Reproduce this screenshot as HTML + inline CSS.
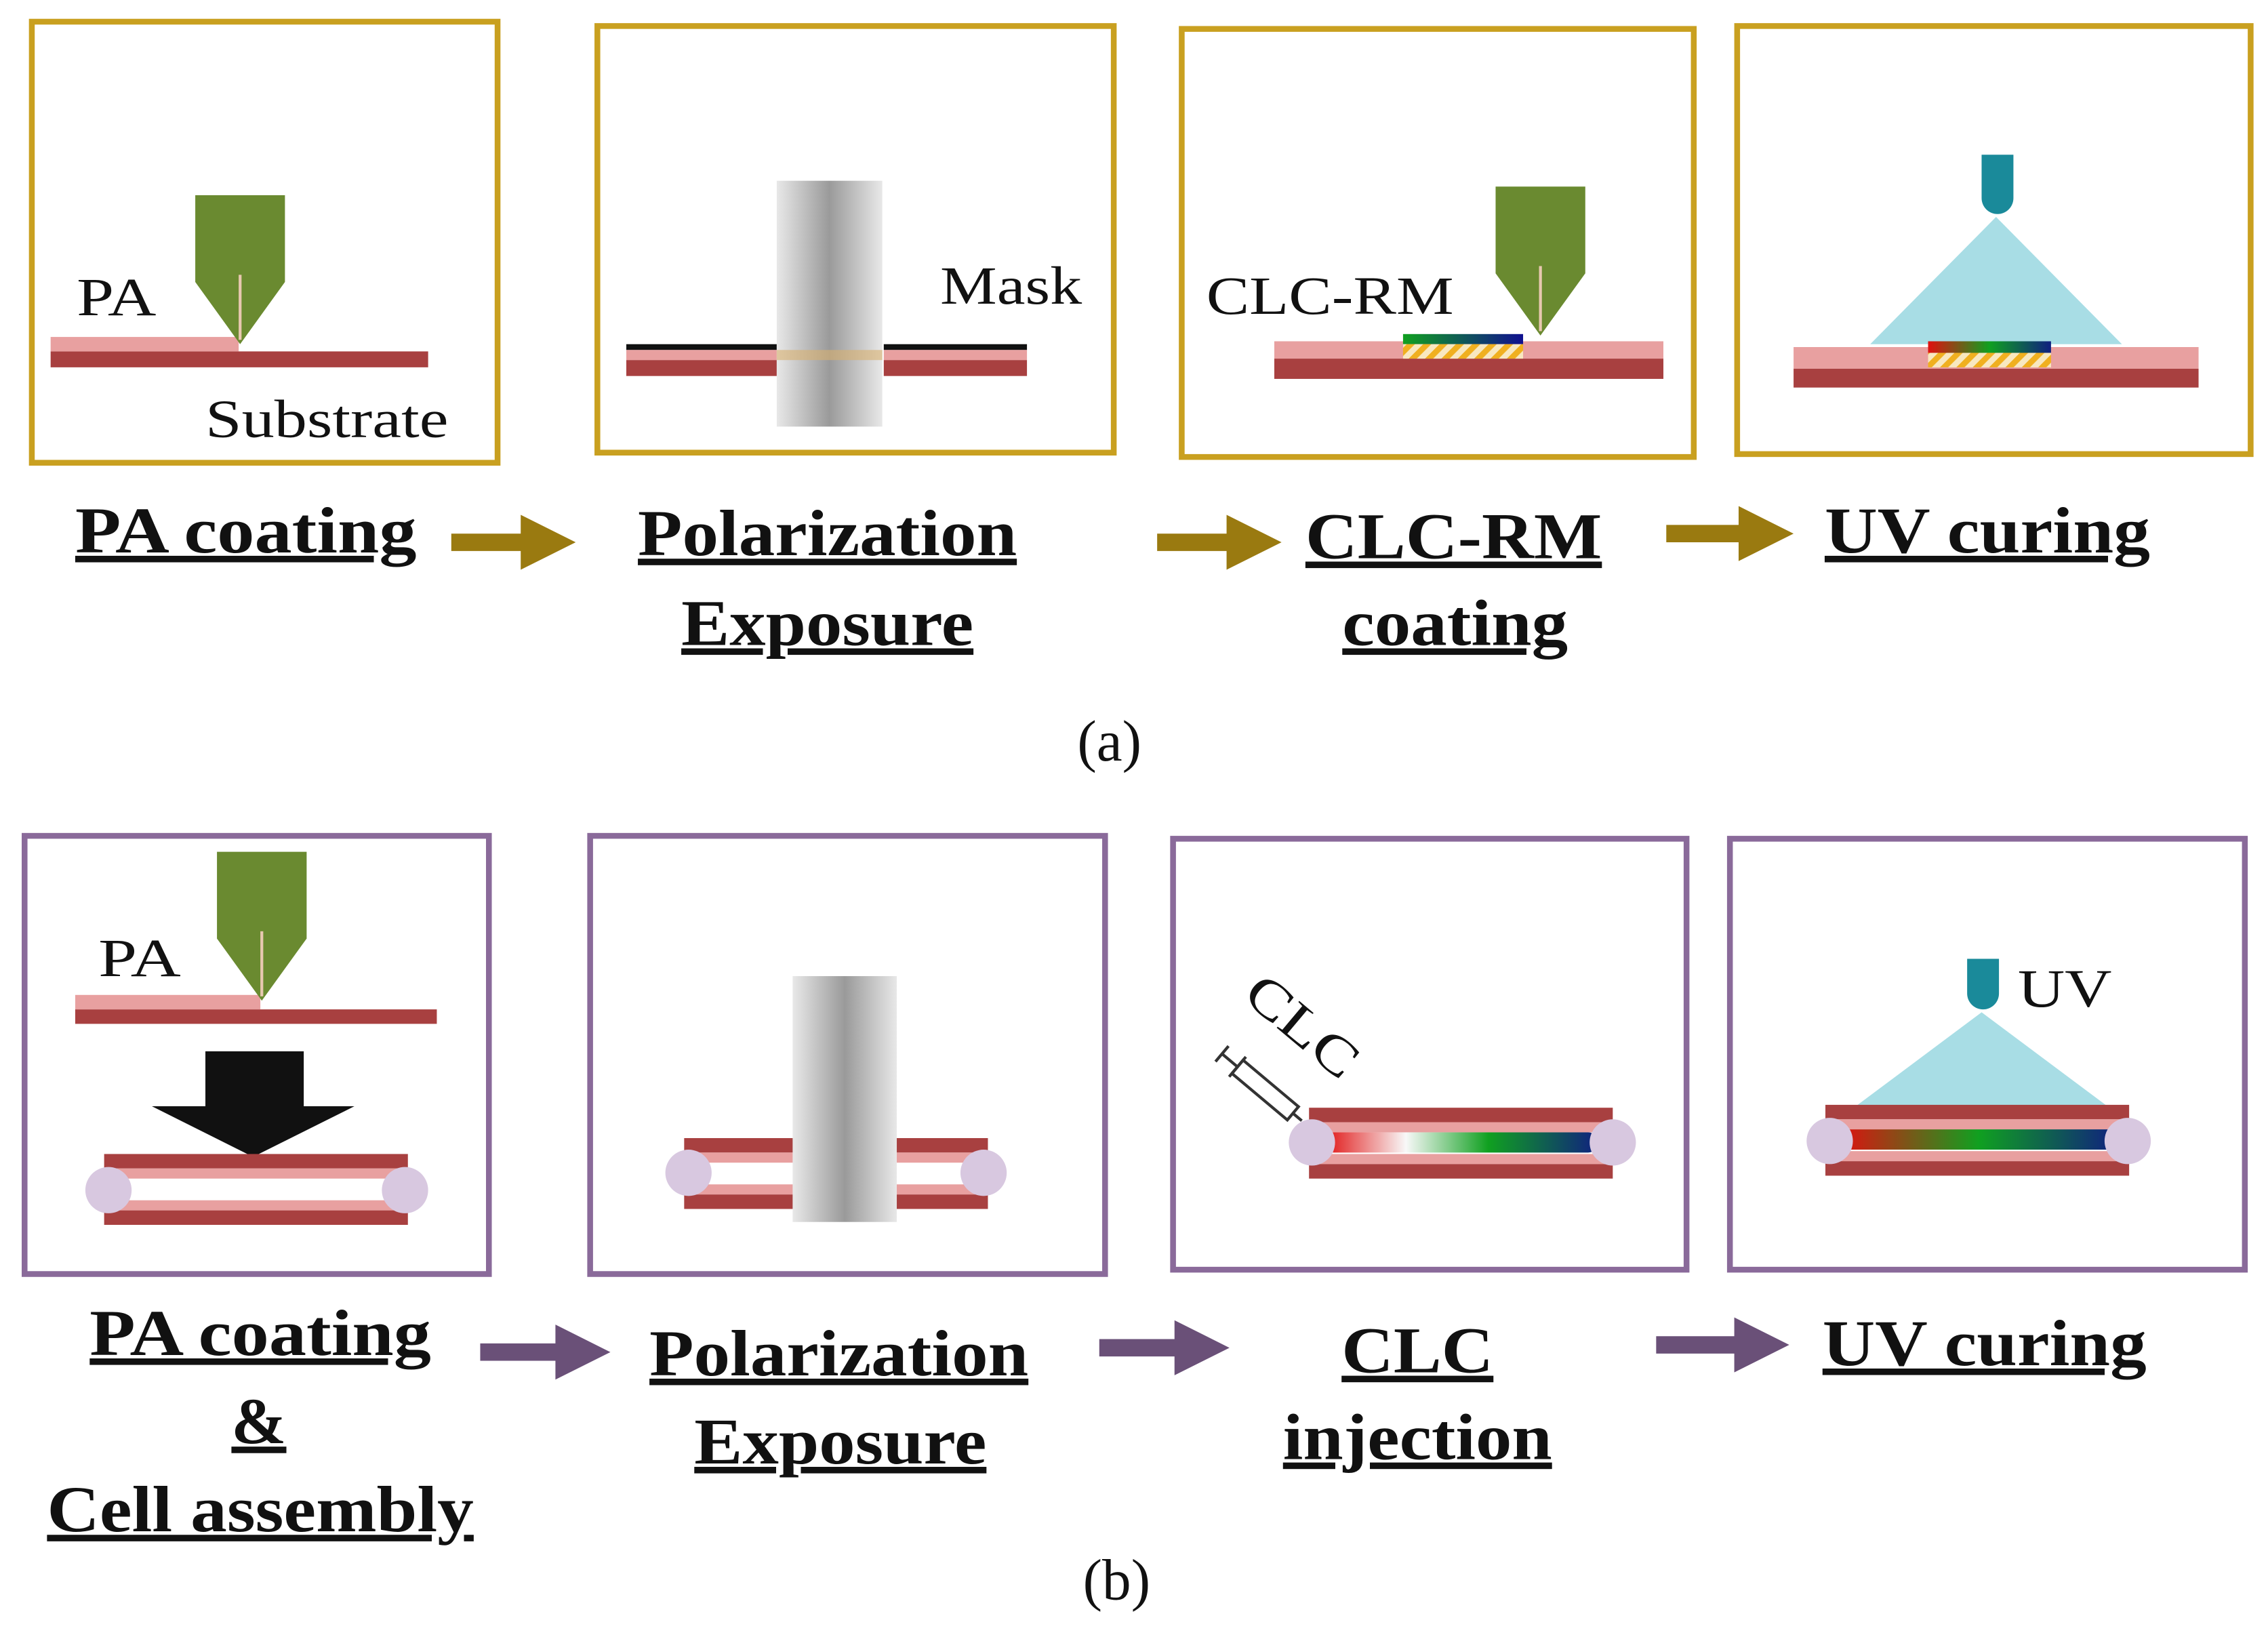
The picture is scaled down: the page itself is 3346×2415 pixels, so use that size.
<!DOCTYPE html>
<html><head><meta charset="utf-8"><style>
html,body{margin:0;padding:0;background:#fff;}
svg{display:block;}
.l{font-family:"Liberation Serif",serif;font-weight:bold;font-size:45px;text-anchor:middle;text-decoration:underline;fill:#111;}
.t{font-family:"Liberation Serif",serif;font-size:37px;fill:#111;}
.c{font-family:"Liberation Serif",serif;font-size:40px;text-anchor:middle;fill:#111;}
</style></head><body>
<svg width="3346" height="2415" viewBox="0 0 1568 1132" preserveAspectRatio="none" xmlns="http://www.w3.org/2000/svg">
<defs>
<linearGradient id="cyl" x1="0" x2="1"><stop offset="0" stop-color="#e8e8e8"/><stop offset=".5" stop-color="#9a9a9a"/><stop offset="1" stop-color="#e8e8e8"/></linearGradient>
<linearGradient id="rgb" x1="0" x2="1"><stop offset="0" stop-color="#e01010"/><stop offset=".5" stop-color="#10a020"/><stop offset="1" stop-color="#102080"/></linearGradient>
<linearGradient id="gb" x1="0" x2="1"><stop offset="0" stop-color="#10a020"/><stop offset="1" stop-color="#101090"/></linearGradient>
<linearGradient id="rwgb" x1="0" x2="1"><stop offset="0" stop-color="#e01010"/><stop offset=".3" stop-color="#f8f8f8"/><stop offset=".6" stop-color="#10a020"/><stop offset="1" stop-color="#102080"/></linearGradient>
<pattern id="hat" width="8" height="8" patternUnits="userSpaceOnUse" patternTransform="rotate(45)"><rect width="8" height="8" fill="#f8e8c0"/><rect width="4" height="8" fill="#f0b020"/></pattern>
<g id="noz"><polygon points="0,0 62,0 62,60 31,103 0,60" fill="#6a8a30"/><line x1="31" y1="55" x2="31" y2="100" stroke="#e8c8b0" stroke-width="2"/></g>
<g id="cell"><rect x="0" y="0" width="210" height="10" fill="#a84040"/><rect x="6" y="10" width="198" height="7" fill="#e8a0a0"/><rect x="6" y="32" width="198" height="7" fill="#e8a0a0"/><rect x="0" y="39" width="210" height="10" fill="#a84040"/></g>
</defs>
<g fill="none" stroke="#c9a020" stroke-width="4">
<rect x="22" y="15" width="322" height="305"/><rect x="413" y="18" width="357" height="295"/><rect x="817" y="20" width="354" height="296"/><rect x="1201" y="18" width="355" height="296"/></g>
<g fill="none" stroke="#8a6a9a" stroke-width="4">
<rect x="17" y="578" width="321" height="303"/><rect x="408" y="578" width="356" height="303"/><rect x="811" y="580" width="355" height="298"/><rect x="1196" y="580" width="356" height="298"/></g>
<!-- a1 -->
<rect x="35" y="243" width="261" height="11" fill="#a84040"/><rect x="35" y="233" width="130" height="10" fill="#e8a0a0"/>
<use href="#noz" x="135" y="135"/>
<text class="t" x="53" y="218" textLength="55" lengthAdjust="spacingAndGlyphs">PA</text><text class="t" x="142" y="302" textLength="168" lengthAdjust="spacingAndGlyphs">Substrate</text>
<!-- a2 -->
<rect x="433" y="238" width="104" height="4" fill="#111"/><rect x="433" y="242" width="104" height="7" fill="#e8a0a0"/><rect x="433" y="249" width="104" height="11" fill="#a84040"/>
<rect x="611" y="238" width="99" height="4" fill="#111"/><rect x="611" y="242" width="99" height="7" fill="#e8a0a0"/><rect x="611" y="249" width="99" height="11" fill="#a84040"/>
<rect x="537" y="125" width="73" height="170" fill="url(#cyl)"/>
<rect x="537" y="242" width="73" height="7" fill="#d8b070" opacity=".6"/>
<text class="t" x="650" y="210" textLength="98" lengthAdjust="spacingAndGlyphs">Mask</text>
<!-- a3 -->
<rect x="881" y="236" width="269" height="12" fill="#e8a0a0"/><rect x="881" y="248" width="269" height="14" fill="#a84040"/>
<rect x="970" y="231" width="83" height="7" fill="url(#gb)"/><rect x="970" y="238" width="83" height="10" fill="url(#hat)"/>
<use href="#noz" x="1034" y="129"/>
<text class="t" x="834" y="217" textLength="171" lengthAdjust="spacingAndGlyphs">CLC-RM</text>
<!-- a4 -->
<polygon points="1380,150 1293,238 1467,238" fill="#a8dde5"/>
<path d="M1370,107 h22 v30 a11,11 0 0 1 -22,0 z" fill="#1a8a9a"/>
<rect x="1240" y="240" width="280" height="15" fill="#e8a0a0"/><rect x="1240" y="255" width="280" height="13" fill="#a84040"/>
<rect x="1333" y="236" width="85" height="8" fill="url(#rgb)"/><rect x="1333" y="244" width="85" height="10" fill="url(#hat)"/>
<!-- a labels -->
<text class="l" x="170" y="382" textLength="236" lengthAdjust="spacingAndGlyphs">PA coating</text>
<text class="l" x="572" y="384" textLength="262" lengthAdjust="spacingAndGlyphs">Polarization</text><text class="l" x="572" y="446" textLength="202" lengthAdjust="spacingAndGlyphs">Exposure</text>
<text class="l" x="1005" y="386" textLength="205" lengthAdjust="spacingAndGlyphs">CLC-RM</text><text class="l" x="1006" y="446" textLength="156" lengthAdjust="spacingAndGlyphs">coating</text>
<text class="l" x="1374" y="382" textLength="225" lengthAdjust="spacingAndGlyphs">UV curing</text>
<g fill="#9a7a10"><polygon points="312,369 360,369 360,356 398,375 360,394 360,381 312,381"/><polygon points="800,369 848,369 848,356 886,375 848,394 848,381 800,381"/><polygon points="1152,363 1202,363 1202,350 1240,369 1202,388 1202,375 1152,375"/></g>
<text class="c" x="767" y="526">(a)</text>
<!-- b1 -->
<rect x="52" y="698" width="250" height="10" fill="#a84040"/><rect x="52" y="688" width="128" height="10" fill="#e8a0a0"/>
<use href="#noz" x="150" y="589"/>
<text class="t" x="68" y="675" textLength="57" lengthAdjust="spacingAndGlyphs">PA</text>
<rect x="142" y="727" width="68" height="38" fill="#111"/><polygon points="105,765 245,765 175,800" fill="#111"/>
<use href="#cell" x="72" y="798"/><circle cx="75" cy="823" r="16" fill="#d8c8e0"/><circle cx="280" cy="823" r="16" fill="#d8c8e0"/>
<!-- b2 -->
<use href="#cell" x="473" y="787"/><circle cx="476" cy="811" r="16" fill="#d8c8e0"/><circle cx="680" cy="811" r="16" fill="#d8c8e0"/>
<rect x="548" y="675" width="72" height="170" fill="url(#cyl)"/>
<!-- b3 -->
<use href="#cell" x="905" y="766"/>
<rect x="915" y="783" width="190" height="14" rx="7" fill="url(#rwgb)"/>
<circle cx="907" cy="790" r="16" fill="#d8c8e0"/><circle cx="1115" cy="790" r="16" fill="#d8c8e0"/>
<g transform="translate(900,775) rotate(-140)"><rect x="8" y="-6" width="50" height="12" fill="#fff" stroke="#333" stroke-width="2"/><line x1="0" y1="0" x2="8" y2="0" stroke="#333" stroke-width="2"/><line x1="58" y1="-9" x2="58" y2="9" stroke="#333" stroke-width="2"/><line x1="58" y1="0" x2="72" y2="0" stroke="#333" stroke-width="2"/><line x1="72" y1="-7" x2="72" y2="7" stroke="#333" stroke-width="2"/></g>
<text class="t" transform="translate(858,690) rotate(40)" textLength="90" lengthAdjust="spacingAndGlyphs">CLC</text>
<!-- b4 -->
<polygon points="1370,700 1283,765 1457,765" fill="#a8dde5"/>
<path d="M1360,663 h22 v24 a11,11 0 0 1 -22,0 z" fill="#1a8a9a"/>
<text class="t" x="1395" y="696" textLength="65" lengthAdjust="spacingAndGlyphs">UV</text>
<use href="#cell" x="1262" y="764"/>
<rect x="1272" y="781" width="192" height="14" rx="7" fill="url(#rgb)"/>
<circle cx="1265" cy="789" r="16" fill="#d8c8e0"/><circle cx="1471" cy="789" r="16" fill="#d8c8e0"/>
<!-- b labels -->
<text class="l" x="180" y="937" textLength="236" lengthAdjust="spacingAndGlyphs">PA coating</text><text class="l" x="179" y="998" textLength="38" lengthAdjust="spacingAndGlyphs">&amp;</text><text class="l" x="180" y="1059" textLength="295" lengthAdjust="spacingAndGlyphs">Cell assembly</text>
<text class="l" x="580" y="951" textLength="262" lengthAdjust="spacingAndGlyphs">Polarization</text><text class="l" x="581" y="1012" textLength="202" lengthAdjust="spacingAndGlyphs">Exposure</text>
<text class="l" x="980" y="949" textLength="105" lengthAdjust="spacingAndGlyphs">CLC</text><text class="l" x="980" y="1009" textLength="186" lengthAdjust="spacingAndGlyphs">injection</text>
<text class="l" x="1372" y="944" textLength="224" lengthAdjust="spacingAndGlyphs">UV curing</text>
<g fill="#6a5078"><polygon points="332,929 384,929 384,916 422,935 384,954 384,941 332,941"/><polygon points="760,926 812,926 812,913 850,932 812,951 812,938 760,938"/><polygon points="1145,924 1199,924 1199,911 1237,930 1199,949 1199,936 1145,936"/></g>
<text class="c" x="772" y="1106">(b)</text>
</svg>
</body></html>
